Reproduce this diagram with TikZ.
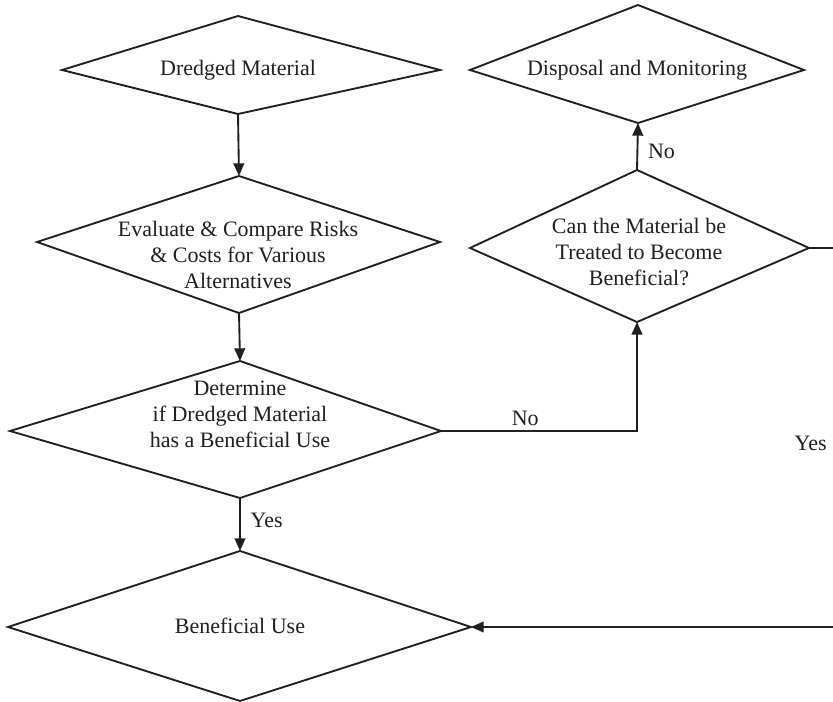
\documentclass[tikz,border=0pt]{standalone}
\usepackage{fontspec}
\setmainfont{Liberation Serif}
\usetikzlibrary{arrows.meta}

\definecolor{ink}{RGB}{35,31,32}

\tikzset{
  dia/.style={draw=ink,line width=1.4pt,line join=miter},
  txt/.style={align=center,text=ink,font=\fontsize{16.5pt}{19.5pt}\selectfont,inner sep=0pt},
  flow/.style={draw=ink,line width=1.4pt,-{Triangle[length=9.5pt,width=8pt]}},
  tag/.style={text=ink,font=\fontsize{16.5pt}{20pt}\selectfont}
}

% rhombus: name, top x, side y, left x, right x, top y, bottom y
\newcommand{\rhomb}[7]{%
  \coordinate (#1-n) at (#2,#6);
  \coordinate (#1-s) at (#2,#7);
  \coordinate (#1-w) at (#4,#3);
  \coordinate (#1-e) at (#5,#3);
  \draw[dia] (#1-w) -- (#1-n) -- (#1-e) -- (#1-s) -- cycle;
}

\begin{document}
\begin{tikzpicture}[x=0.75pt,y=0.75pt,yscale=-1,xscale=1]
\useasboundingbox (0,0) rectangle (833,702);
\clip (0,0) rectangle (833,702);

%Shape: Diamonds
\rhomb{dredged}{238}{70}{62}{440}{16}{114}
\rhomb{evaluate}{239}{242}{37}{440}{176}{313}
\rhomb{determine}{240}{431}{10}{441}{361}{498}
\rhomb{beneficial}{240}{627}{8}{471}{551}{701}
\rhomb{disposal}{638}{70}{470}{804}{5}{123}
\rhomb{treat}{637}{248}{470}{809}{170}{322}

% Text Node
\node[txt] (tDredged) at (238,70) {Dredged Material};
% Text Node
\node[txt] (tEvaluate) at (238,255) {Evaluate \& Compare Risks\\\& Costs for Various\\Alternatives};
% Text Node
\node[txt] (tDetermine) at (240,414) {Determine\\if Dredged Material\\has a Beneficial Use};
% Text Node
\node[txt] (tBeneficial) at (240,626) {Beneficial Use};
% Text Node
\node[txt] (tDisposal) at (637,70) {Disposal and Monitoring};
% Text Node
\node[txt] (tTreat) at (639,252) {Can the Material be\\Treated to Become\\Beneficial?};

%Corners of the return line
\coordinate (loopT) at (840,248);
\coordinate (loopB) at (840,627);

%Connectors
\draw[flow] (dredged-s) -- (evaluate-n);
\draw[flow] (evaluate-s) -- (determine-n);
\draw[flow] (determine-s) -- node[tag,right,pos=0.43,xshift=4pt] {Yes} (beneficial-n);
\draw[flow] (determine-e) -- node[tag,above,pos=0.43] {No} (treat-s |- determine-e) -- (treat-s);
\draw[flow] (treat-n) -- node[tag,right,pos=0.4,xshift=4pt] {No} (disposal-s);
\draw[flow] (treat-e) -- (loopT) -- node[tag,left=6pt,pos=0.515] {Yes} (loopB) -- (beneficial-e);

\end{tikzpicture}
\end{document}
